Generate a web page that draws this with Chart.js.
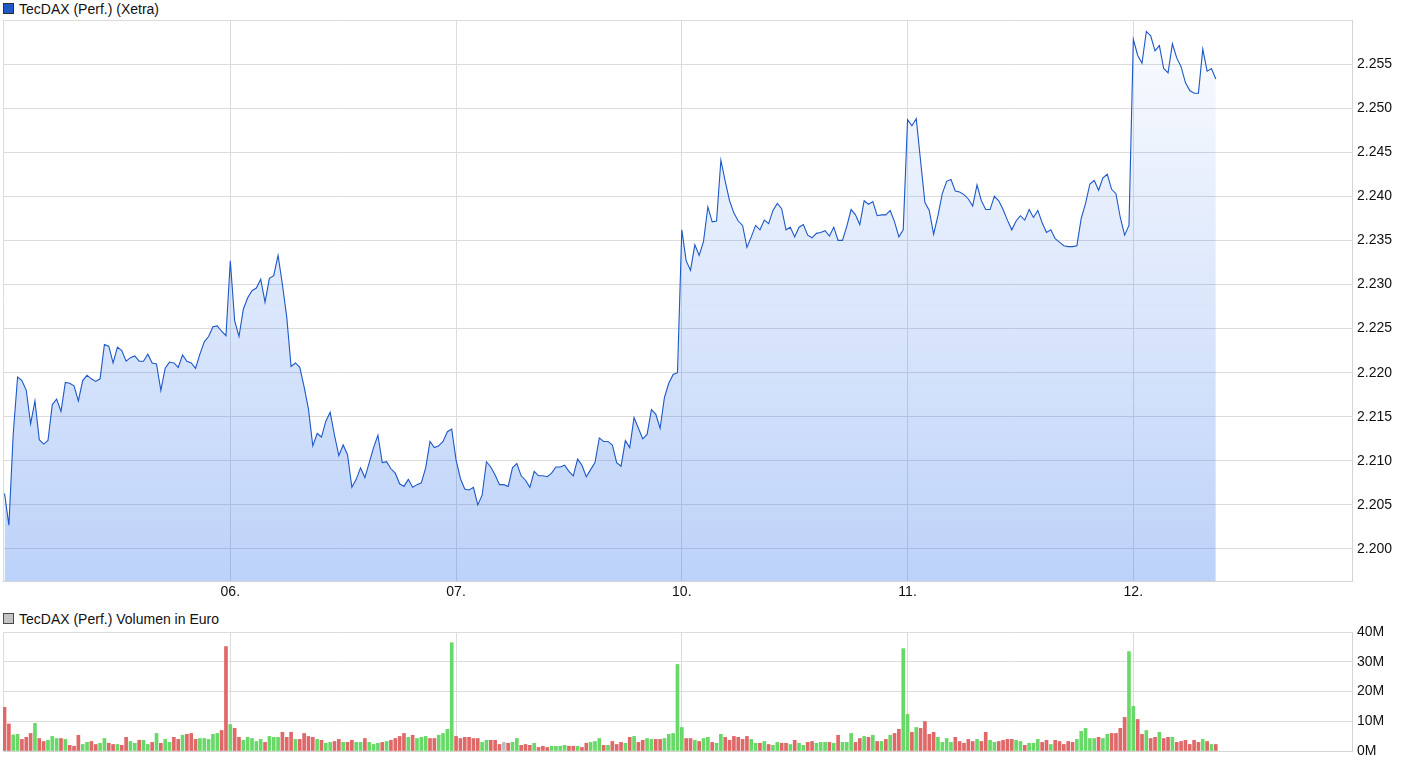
<!DOCTYPE html>
<html lang="de">
<head>
    <meta charset="UTF-8">
    <title>TecDAX (Perf.) (Xetra)</title>
    <script src="https://cdn.jsdelivr.net/npm/chart.js"></script>
    <style>
        html, body { margin: 0; padding: 0; background: #fff; }
        body { width: 1410px; height: 766px; position: relative; overflow: hidden;
               font-family: "Liberation Sans", Arial, sans-serif; }
        .legende { position: absolute; left: 19px; font-size: 14px; line-height: 18px; color: #111; white-space: nowrap; }
        .kasten { position: absolute; left: 3px; width: 9px; height: 9px; border: 1px solid #2e2e2e; }
        canvas { position: absolute; left: 0; }
    </style>
</head>
<body>
<div class="kasten" style="top:3px; background:#1f5bc8;"></div>
<div class="legende" style="top:0px;">TecDAX (Perf.) (Xetra)</div>
<canvas id="kurs" width="1410" height="605" style="top:0;"></canvas>

<div class="kasten" style="top:613px; background:#c4c4c4; border-color:#4a4a4a;"></div>
<div class="legende" style="top:610px;">TecDAX (Perf.) Volumen in Euro</div>
<canvas id="volumen" width="1410" height="161" style="top:605px;"></canvas>

<script>
    // Handelstage (x-Achse), je 52 Zehn-Minuten-Werte
    const tage = ['05.', '06.', '07.', '10.', '11.', '12.'];

    // Kursverlauf pro Tag
    const kurs05 = [2.2063, 2.2027, 2.2131, 2.2195, 2.2191, 2.2180, 2.2142, 2.2168, 2.2124, 2.2119,
        2.2123, 2.2164, 2.2170, 2.2156, 2.2189, 2.2188, 2.2185, 2.2168, 2.2191, 2.2197,
        2.2193, 2.2190, 2.2193, 2.2232, 2.2230, 2.2211, 2.2229, 2.2225, 2.2213, 2.2217,
        2.2219, 2.2213, 2.2213, 2.2221, 2.2211, 2.2210, 2.2180, 2.2205, 2.2212, 2.2211,
        2.2206, 2.2220, 2.2213, 2.2211, 2.2205, 2.2221, 2.2235, 2.2241, 2.2252, 2.2253,
        2.2247, 2.2242];
    const kurs06 = [2.2327, 2.2259, 2.2241, 2.2272, 2.2285, 2.2293, 2.2296, 2.2306, 2.2280, 2.2307,
        2.2310, 2.2333, 2.2300, 2.2263, 2.2207, 2.2211, 2.2206, 2.2184, 2.2159, 2.2117,
        2.2131, 2.2127, 2.2145, 2.2155, 2.2129, 2.2106, 2.2118, 2.2107, 2.2070, 2.2079,
        2.2092, 2.2081, 2.2098, 2.2115, 2.2129, 2.2098, 2.2099, 2.2091, 2.2086, 2.2074,
        2.2071, 2.2079, 2.2070, 2.2073, 2.2075, 2.2092, 2.2122, 2.2115, 2.2117, 2.2122,
        2.2133, 2.2136];
    const kurs07 = [2.2101, 2.2080, 2.2068, 2.2067, 2.2070, 2.2050, 2.2061, 2.2099, 2.2093, 2.2084,
        2.2073, 2.2073, 2.2071, 2.2092, 2.2097, 2.2083, 2.2078, 2.2070, 2.2088, 2.2083,
        2.2083, 2.2082, 2.2086, 2.2093, 2.2093, 2.2095, 2.2088, 2.2083, 2.2102, 2.2095,
        2.2082, 2.2090, 2.2098, 2.2126, 2.2122, 2.2122, 2.2118, 2.2098, 2.2094, 2.2123,
        2.2115, 2.2149, 2.2137, 2.2125, 2.2130, 2.2158, 2.2153, 2.2137, 2.2172, 2.2188,
        2.2198, 2.2200];
    const kurs10 = [2.2362, 2.2327, 2.2316, 2.2345, 2.2333, 2.2349, 2.2388, 2.2371, 2.2372, 2.2441,
        2.2417, 2.2395, 2.2381, 2.2372, 2.2367, 2.2342, 2.2354, 2.2367, 2.2362, 2.2373,
        2.2369, 2.2384, 2.2392, 2.2386, 2.2362, 2.2365, 2.2354, 2.2365, 2.2368, 2.2356,
        2.2353, 2.2358, 2.2359, 2.2361, 2.2355, 2.2365, 2.2350, 2.2350, 2.2366, 2.2385,
        2.2379, 2.2368, 2.2395, 2.2391, 2.2394, 2.2378, 2.2379, 2.2379, 2.2384, 2.2371,
        2.2354, 2.2362];
    const kurs11 = [2.2487, 2.2480, 2.2488, 2.2440, 2.2393, 2.2384, 2.2357, 2.2378, 2.2403, 2.2417,
        2.2419, 2.2406, 2.2405, 2.2402, 2.2397, 2.2389, 2.2413, 2.2395, 2.2385, 2.2385,
        2.2400, 2.2395, 2.2385, 2.2373, 2.2362, 2.2372, 2.2378, 2.2373, 2.2385, 2.2376,
        2.2384, 2.2370, 2.2359, 2.2362, 2.2352, 2.2348, 2.2344, 2.2343, 2.2343, 2.2344,
        2.2375, 2.2392, 2.2414, 2.2418, 2.2407, 2.2421, 2.2425, 2.2408, 2.2403, 2.2376,
        2.2356, 2.2367];
    const kurs12 = [2.2578, 2.2560, 2.2551, 2.2587, 2.2582, 2.2565, 2.2571, 2.2545, 2.2540, 2.2573,
        2.2557, 2.2547, 2.2529, 2.2520, 2.2517, 2.2517, 2.2567, 2.2542, 2.2545, 2.2533];

    // Volumen in Mio. Euro pro Tag
    const vol05 = [14.7, 9.1, 5.4, 5.6, 3.9, 4.6, 5.9, 9.3, 4.2, 3.2, 3.6, 4.9, 4.2, 4.2, 3.9, 1.9, 1.6, 5.3, 2.2, 2.9,
        3.2, 2.2, 2.6, 4.2, 2.6, 2.2, 2.2, 1.9, 4.6, 3.2, 2.6, 3.6, 3.6, 2.2, 2.9, 5.9, 2.6, 3.9, 2.9, 4.6,
        3.9, 5.3, 5.6, 5.9, 3.9, 4.2, 4.2, 3.9, 5.6, 5.9, 6.9, 35.1];
    const vol06 = [8.9, 7.6, 4.6, 3.6, 4.6, 4.2, 3.2, 3.9, 2.9, 4.9, 4.6, 4.6, 6.3, 4.6, 6.3, 3.9, 3.9, 5.9, 4.9, 4.6,
        3.9, 3.6, 2.6, 2.9, 3.2, 3.9, 2.9, 2.9, 3.6, 2.9, 2.9, 4.2, 2.9, 2.2, 2.6, 2.9, 3.2, 3.6, 4.2, 4.9,
        5.9, 4.6, 5.3, 4.2, 4.6, 4.9, 4.2, 4.2, 5.3, 5.9, 7.3, 36.4];
    const vol07 = [4.9, 4.2, 4.6, 4.6, 4.2, 4.2, 2.9, 3.6, 3.6, 3.6, 2.2, 2.9, 2.6, 2.9, 4.2, 1.9, 2.2, 1.9, 2.6, 1.2,
        1.6, 1.2, 1.6, 1.6, 1.6, 1.9, 1.6, 1.6, 1.6, 1.2, 2.6, 2.9, 3.2, 4.2, 1.9, 1.9, 3.2, 2.2, 2.9, 2.6,
        4.6, 4.9, 2.9, 3.6, 4.2, 3.9, 3.9, 3.9, 4.2, 5.6, 5.9, 29.1];
    const vol10 = [7.9, 4.2, 4.2, 3.6, 3.2, 4.2, 4.6, 2.9, 2.6, 5.6, 4.6, 3.6, 4.9, 4.6, 3.9, 4.9, 3.9, 2.6, 2.6, 3.2,
        2.2, 1.9, 2.9, 2.6, 2.6, 2.2, 3.6, 2.6, 1.9, 2.9, 3.2, 2.6, 2.9, 2.9, 2.9, 2.6, 5.3, 2.9, 2.9, 5.9,
        2.9, 4.2, 4.9, 4.6, 5.3, 3.2, 3.2, 3.9, 5.3, 5.9, 7.3, 34.4];
    const vol11 = [12.3, 6.3, 7.9, 7.6, 9.9, 5.6, 6.3, 4.6, 2.9, 4.2, 2.9, 4.6, 3.2, 2.6, 3.9, 3.2, 3.9, 3.2, 6.3, 3.6,
        2.9, 3.2, 3.6, 3.9, 3.9, 3.6, 3.2, 1.9, 2.6, 2.6, 3.9, 2.9, 3.6, 2.2, 3.6, 3.2, 2.2, 3.2, 2.9, 3.9,
        6.6, 7.6, 4.2, 4.2, 4.6, 4.2, 5.6, 5.9, 5.9, 7.6, 11.3, 33.4];
    const vol12 = [15.0, 10.6, 5.6, 6.9, 4.2, 4.6, 6.3, 4.2, 4.6, 4.6, 2.9, 3.2, 3.6, 2.2, 3.6, 2.9, 3.9, 3.2, 2.2, 2.2];

    // Richtung je Balken: g = gestiegen, r = gefallen, n = unverändert
    const richtung05 = 'rrggrrrgrr' + 'gggrgrrrgg' + 'rrggrrgrrg' + 'grggrgrggr' + 'rgrrrggggg' + 'rr';
    const richtung06 = 'grrgggggrg' + 'ggrrrgrrrr' + 'grggrrgrrg' + 'grgggrgrrr' + 'rgrgggrrgg' + 'gg';
    const richtung07 = 'rrrrrrggrr' + 'rnrggrrrgr' + 'rrggggrrgr' + 'rgggrgrrrg' + 'rgrrggrrgg' + 'gg';
    const richtung10 = 'grrgrggrgg' + 'rrrrrrggrg' + 'rggrrgrggr' + 'rgggrgrggg' + 'rrgrgrgrgr' + 'rg';
    const richtung11 = 'grgrrrrggg' + 'grrrrrgrrg' + 'grrrrggrgg' + 'grrgrrrrrg' + 'ggggrggrrr' + 'rg';
    const richtung12 = 'grrgrrgrrg' + 'rrrrrrgrgr';

    const kursTicks = [2.200, 2.205, 2.210, 2.215, 2.220, 2.225, 2.230, 2.235, 2.240, 2.245, 2.250, 2.255, 2.260];
    const volTicks = [0, 10, 20, 30, 40];

    const X_MIN = -0.0069, X_MAX = 5.9687;
    const WERTE_PRO_TAG = 52;

    function zuPunkten(tageswerte) {
        const punkte = [];
        tageswerte.forEach((werte, tag) => {
            werte.forEach((w, i) => punkte.push({ x: tag + i / WERTE_PRO_TAG, y: w }));
        });
        return punkte;
    }

    const kursPunkte = zuPunkten([kurs05, kurs06, kurs07, kurs10, kurs11, kurs12]);
    const volPunkte = zuPunkten([vol05, vol06, vol07, vol10, vol11, vol12]);
    const richtung = (richtung05 + richtung06 + richtung07 + richtung10 + richtung11 + richtung12).split('');
    const farben = { g: '#68d968', r: '#df6868', n: '#bdbdbd' };

    Chart.defaults.font.family = '"Liberation Sans", Arial, sans-serif';
    Chart.defaults.font.size = 14;
    Chart.defaults.color = '#111';

    const gitter = { color: '#dcdcdc', lineWidth: 1, drawTicks: false, offset: false };
    const rahmen = { color: '#d4d4d4', width: 1 };

    const xAchse = (hoehe, zeigeLabels) => ({
        type: 'linear',
        min: X_MIN,
        max: X_MAX,
        offset: false,
        afterBuildTicks: s => { s.ticks = [X_MIN, 1, 2, 3, 4, 5].map(v => ({ value: v })); },
        afterFit: s => { s.height = hoehe; },
        grid: gitter,
        border: rahmen,
        ticks: {
            display: zeigeLabels,
            autoSkip: false,
            maxRotation: 0,
            padding: 3,
            callback: v => (v >= 1 ? tage[Math.round(v)] : '')
        }
    });

    // Kurschart
    new Chart(document.getElementById('kurs'), {
        type: 'line',
        data: {
            datasets: [{
                data: kursPunkte,
                borderColor: '#1d58c8',
                borderWidth: 1.1,
                pointRadius: 0,
                tension: 0,
                fill: 'start',
                backgroundColor: (ctx) => {
                    const area = ctx.chart.chartArea;
                    if (!area) return null;
                    const g = ctx.chart.ctx.createLinearGradient(0, area.top, 0, area.bottom);
                    g.addColorStop(0, 'rgba(40,110,235,0.02)');
                    g.addColorStop(1, 'rgba(40,110,235,0.31)');
                    return g;
                }
            }]
        },
        options: {
            responsive: false,
            animation: false,
            layout: { padding: { top: 20, left: 3, right: 0, bottom: 0 } },
            plugins: { legend: { display: false }, tooltip: { enabled: false } },
            scales: {
                x: xAchse(24, true),
                y: {
                    position: 'right',
                    min: 2.19637,
                    max: 2.260,
                    afterBuildTicks: s => { s.ticks = kursTicks.map(v => ({ value: v })); },
                    afterFit: s => { s.width = 58; },
                    grid: gitter,
                    border: rahmen,
                    ticks: {
                        padding: 5,
                        callback: v => (v > 2.2575 ? '' : v.toFixed(3))
                    }
                }
            }
        }
    });

    // Volumenchart
    new Chart(document.getElementById('volumen'), {
        type: 'bar',
        data: {
            datasets: [{
                data: volPunkte,
                backgroundColor: richtung.map(r => farben[r]),
                barThickness: 3,
                borderWidth: 0
            }]
        },
        options: {
            responsive: false,
            animation: false,
            layout: { padding: { top: 27, left: 3, right: 0, bottom: 0 } },
            plugins: { legend: { display: false }, tooltip: { enabled: false } },
            scales: {
                x: xAchse(15, false),
                y: {
                    position: 'right',
                    min: 0,
                    max: 40,
                    afterBuildTicks: s => { s.ticks = volTicks.map(v => ({ value: v })); },
                    afterFit: s => { s.width = 58; },
                    grid: gitter,
                    border: rahmen,
                    ticks: {
                        padding: 5,
                        callback: v => v + 'M'
                    }
                }
            }
        }
    });
</script>
</body>
</html>
